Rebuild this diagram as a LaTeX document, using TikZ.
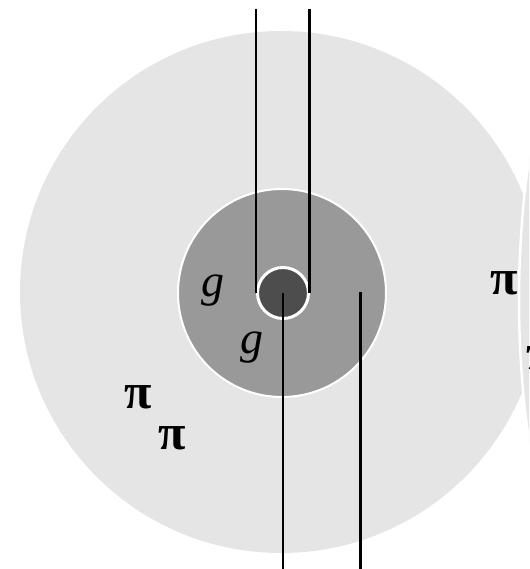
\documentclass[tikz,border=0pt]{standalone}
\usepackage{fontspec}
\setmainfont{Liberation Serif}
\begin{document}
\begin{tikzpicture}[x=1pt,y=1pt,
  disc/.style={circle,inner sep=0pt,outer sep=0pt},
  wire/.style={line width=2.2pt,black},
  glab/.style={inner sep=0pt,anchor=base,font=\fontsize{46}{50}\selectfont\itshape},
  plab/.style={inner sep=0pt,anchor=base,font=\fontsize{50}{56}\selectfont\bfseries}]
\useasboundingbox (0,0) rectangle (529,569);
\clip (0,0) rectangle (529,569);
\fill[white] (0,0) rectangle (529,569);
% outer region
\node[disc,fill={rgb,255:red,229;green,229;blue,229},minimum size=522pt] (big) at (281,277) {};
% neighbouring region on the right
\node[disc,fill={rgb,255:red,229;green,229;blue,229},draw=white,line width=2.5pt,minimum size=2000pt] (next) at (1519,269) {};
% middle region
\node[disc,fill={rgb,255:red,153;green,153;blue,153},draw=white,line width=2pt,minimum size=208pt] (mid) at (282,276) {};
% core
\node[disc,fill={rgb,255:red,77;green,77;blue,77},draw=white,line width=3pt,minimum size=51pt] (core) at (283,276) {};
% wire ends
\coordinate (t1) at (256,560);
\coordinate (t2) at (309.5,560);
\coordinate (b3) at (283,0);
\coordinate (p4) at (360.5,277);
\coordinate (b4) at (360.5,0);
\draw[wire] (t1) -- (t1 |- core.west);
\draw[wire] (t2) -- (t2 |- core.east);
\draw[wire] (core.center) -- (b3);
\draw[wire] (p4) -- (b4);
% labels
\node[glab] (g1) at (213,272) {g};
\node[glab] (g2) at (252,215) {g};
\node[plab] (p1) at (504,274) {π};
\node[plab] (p2) at (138.5,160) {π};
\node[plab] (p3) at (172.5,119) {π};
\node[plab] (p4l) at (540,199) {π};
\end{tikzpicture}
\end{document}
